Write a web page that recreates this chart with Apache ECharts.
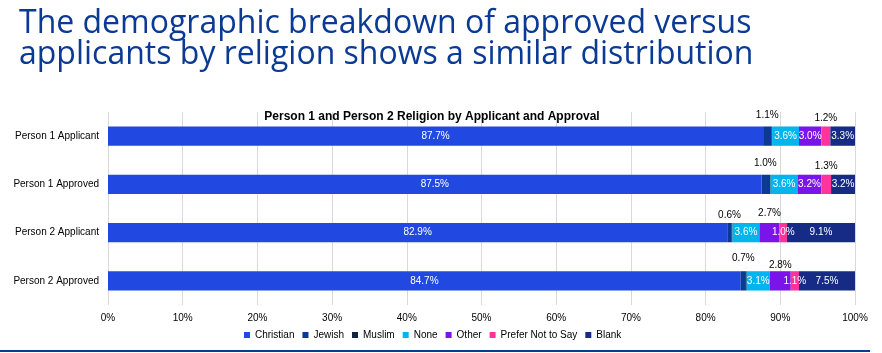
<!DOCTYPE html>
<html>
<head>
<meta charset="utf-8">
<style>
  html, body { margin: 0; padding: 0; background: #fff; }
  #chart { width: 882px; height: 353px; }
</style>
</head>
<body>
<div id="chart"></div>
<script src="https://cdn.jsdelivr.net/npm/echarts@6/dist/echarts.min.js"></script>
<script>
// rows, top to bottom
var groups = ["Person 1 Applicant", "Person 1 Approved", "Person 2 Applicant", "Person 2 Approved"];

// percent share per religion, one value per row
var christian = [87.7, 87.5, 82.9, 84.7];
var jewish = [1.1, 1.0, 0.6, 0.7];
var muslim = [0.1, 0.2, 0.1, 0.1];
var none = [3.6, 3.6, 3.6, 3.1];
var other = [3.0, 3.2, 2.7, 2.8];
var preferNot = [1.2, 1.3, 1.0, 1.1];
var blank = [3.3, 3.2, 9.1, 7.5];

var xTicks = [0, 10, 20, 30, 40, 50, 60, 70, 80, 90, 100];

var series = [
  { name: "Christian", data: christian, color: "#2148e0" },
  { name: "Jewish", data: jewish, color: "#0b3a94" },
  { name: "Muslim", data: muslim, color: "#10243f" },
  { name: "None", data: none, color: "#00b4f0" },
  { name: "Other", data: other, color: "#7a14e8" },
  { name: "Prefer Not to Say", data: preferNot, color: "#ff3399" },
  { name: "Blank", data: blank, color: "#152b85" }
];

// which labels sit above the bar (number = distance), null = inside
var labelAbove = {
  "Jewish": [6, 6, 3, 8],
  "Other": [null, null, 5, 1],
  "Prefer Not to Say": [3, 3, null, null]
};

var chart = echarts.init(document.getElementById("chart"));

var option = {
  backgroundColor: "#fff",
  animation: false,
  title: [
    {
      text: "The demographic breakdown of approved versus\napplicants by religion shows a similar distribution",
      left: 14,
      top: 3,
      textStyle: {
        fontFamily: "Open Sans",
        fontSize: 32,
        fontWeight: "normal",
        color: "#0a3a94",
        lineHeight: 31
      }
    },
    {
      text: "Person 1 and Person 2 Religion by Applicant and Approval",
      left: 427,
      top: 106,
      textAlign: "center",
      textStyle: {
        fontFamily: "Liberation Sans",
        fontSize: 12,
        fontWeight: "bold",
        color: "#000"
      }
    }
  ],
  legend: {
    bottom: 8,
    left: 239,
    icon: "rect",
    itemWidth: 6,
    itemHeight: 6,
    itemGap: 8,
    textStyle: { fontFamily: "Liberation Sans", fontSize: 10, color: "#000" },
    data: series.map(function (s) { return s.name; })
  },
  grid: { left: 108, right: 27, top: 112, height: 193 },
  xAxis: {
    type: "value",
    min: xTicks[0],
    max: xTicks[xTicks.length - 1],
    interval: xTicks[1] - xTicks[0],
    axisLine: { show: false },
    axisTick: { show: false },
    axisLabel: {
      formatter: "{value}%",
      fontFamily: "Liberation Sans",
      fontSize: 10,
      color: "#000",
      margin: 8
    },
    splitLine: { lineStyle: { color: "#d9d9d9", width: 1 } }
  },
  yAxis: {
    type: "category",
    inverse: true,
    data: groups,
    axisLine: { show: false },
    axisTick: { show: false },
    axisLabel: {
      fontFamily: "Liberation Sans",
      fontSize: 10,
      color: "#000",
      margin: 9
    }
  },
  series: series.map(function (s) {
    var above = labelAbove[s.name];
    return {
      name: s.name,
      type: "bar",
      stack: "total",
      barWidth: "40%",
      itemStyle: { color: s.color },
      label: {
        show: s.name !== "Muslim",
        position: "inside",
        color: "#fff",
        fontFamily: "Liberation Sans",
        fontSize: 10,
        formatter: function (p) { return p.value.toFixed(1) + "%"; }
      },
      data: s.data.map(function (v, i) {
        if (above && above[i] !== null) {
          return {
            value: v,
            label: { position: "top", distance: above[i], color: "#000" }
          };
        }
        return v;
      })
    };
  }),
  graphic: [
    {
      type: "line",
      shape: { x1: 0, y1: 351, x2: 870, y2: 351 },
      style: { stroke: "#0b3a94", lineWidth: 2 }
    }
  ]
};

chart.setOption(option);
</script>
</body>
</html>
